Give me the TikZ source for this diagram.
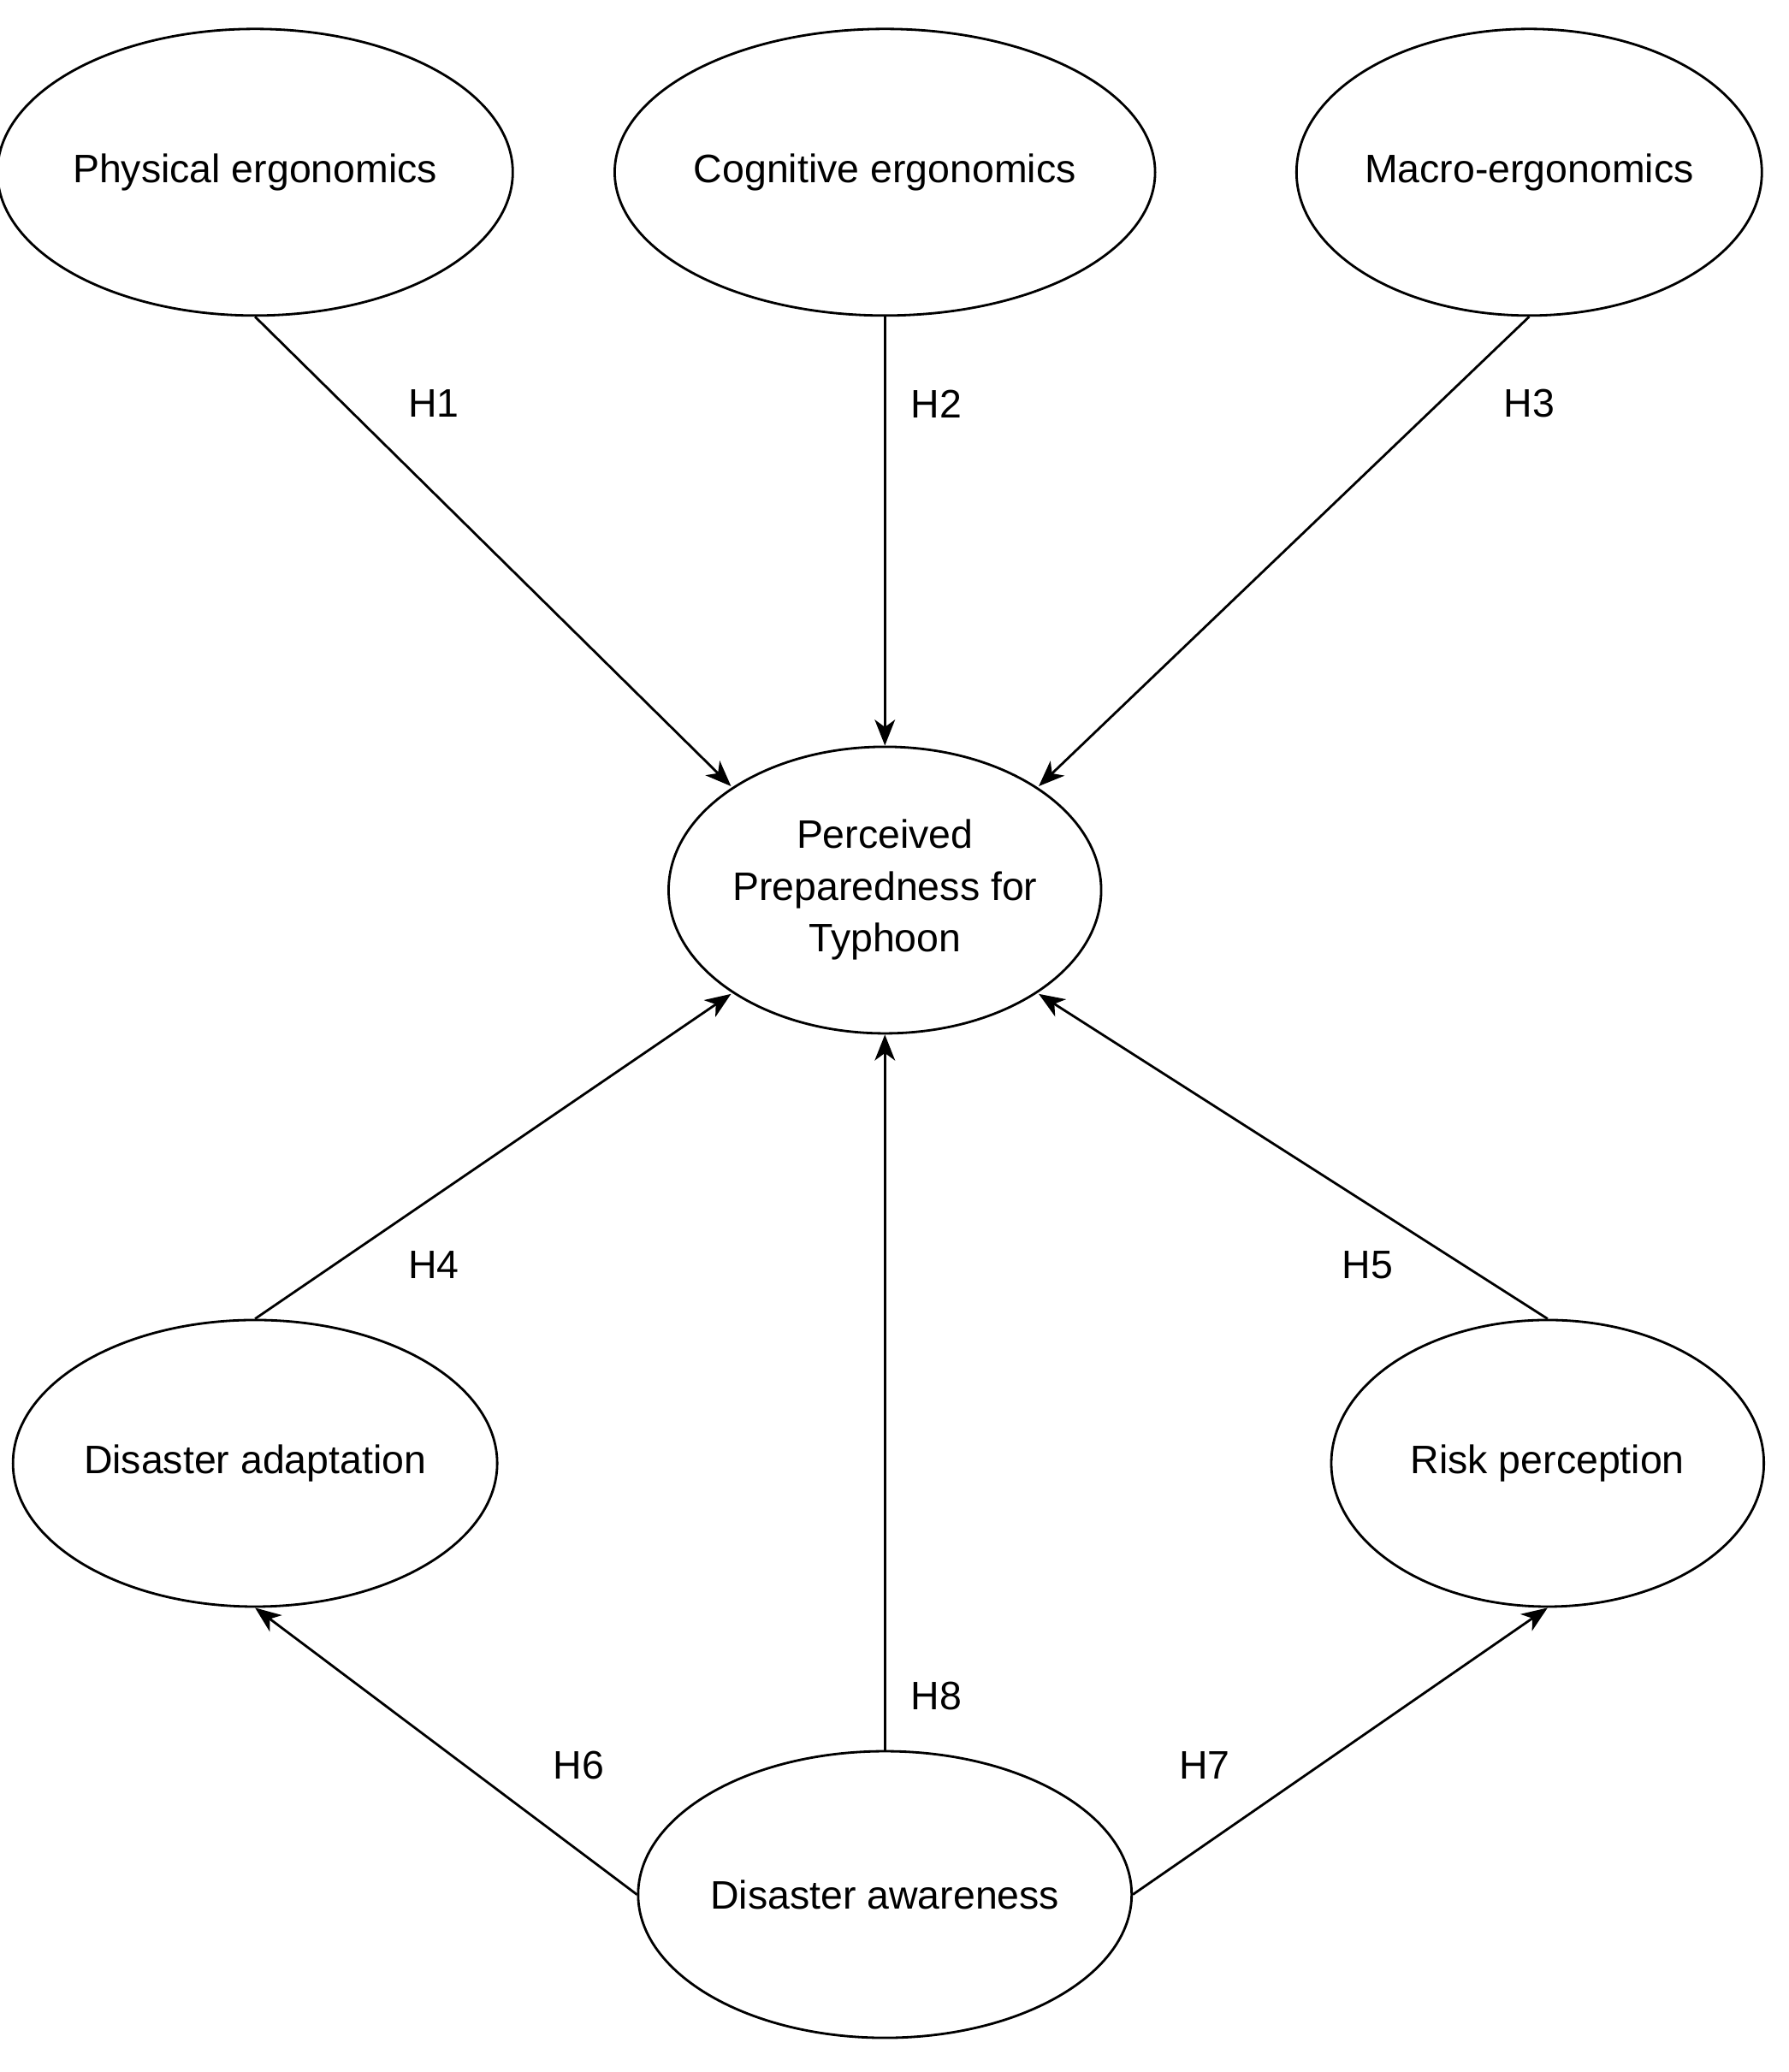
\documentclass[tikz,border=0pt]{standalone}
\usepackage{fontspec}
\setmainfont{Liberation Sans}
\usetikzlibrary{shapes.geometric,arrows.meta}
\begin{document}
\begin{tikzpicture}[x=0.05cm,y=-0.05cm,
  el/.style={ellipse,draw,line width=2.6pt,minimum width=329*0.05cm,minimum height=218*0.05cm,inner sep=0pt,align=center,font=\fontsize{43}{56}\selectfont},
  ar/.style={line width=2.6pt,-{Stealth[length=28pt,width=22pt,inset=8pt]}},
  lb/.style={font=\fontsize{43}{52}\selectfont}]
\useasboundingbox (0,0) rectangle (1360,1576);
\fill[white] (0,0) rectangle (1360,1576);
\node[el] (phys) at (194,131) {Physical ergonomics};
\node[el] (cog) at (673,131) {Cognitive ergonomics};
\node[el] (mac) at (1163,131) {Macro-ergonomics};
\node[el] (perc) at (673,677) {Perceived\\Preparedness for\\Typhoon};
\node[el] (adap) at (194,1113) {Disaster adaptation};
\node[el] (risk) at (1177,1113) {Risk perception};
\node[el] (awa) at (673,1441) {Disaster awareness};
\coordinate (p1) at (556,598);
\coordinate (p3) at (790,598);
\coordinate (p4) at (556,756);
\coordinate (p5) at (790,756);
\draw[ar] (phys.south) -- (p1);
\draw[ar] (cog.south) -- (perc.north);
\draw[ar] (mac.south) -- (p3);
\draw[ar] (adap.north) -- (p4);
\draw[ar] (risk.north) -- (p5);
\draw[ar] (awa.north) -- (perc.south);
\draw[ar] (awa.west) -- (adap.south);
\draw[ar] (awa.east) -- (risk.south);
\node[lb] (h1) at (330,307) {H1};
\node[lb] (h2) at (712,307) {H2};
\node[lb] (h3) at (1163,307) {H3};
\node[lb] (h4) at (330,962) {H4};
\node[lb] (h5) at (1040,962) {H5};
\node[lb] (h6) at (440,1343) {H6};
\node[lb] (h8) at (712,1290) {H8};
\node[lb] (h7) at (916,1343) {H7};
\end{tikzpicture}
\end{document}
